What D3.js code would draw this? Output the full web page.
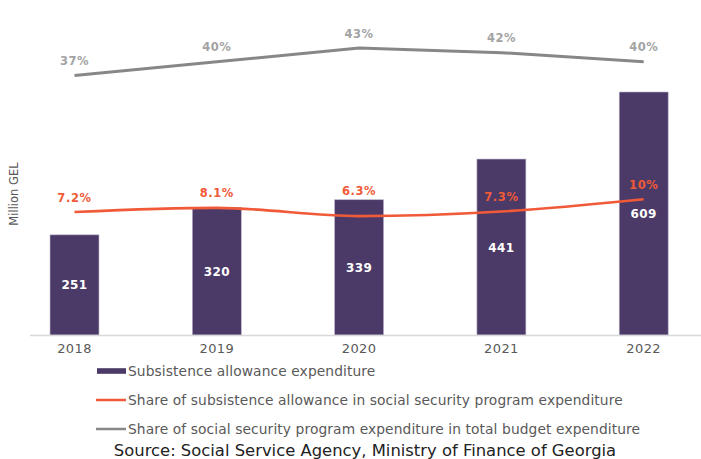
<!DOCTYPE html>
<html>
<head>
<meta charset="utf-8">
<script src="https://cdn.jsdelivr.net/npm/d3@7/dist/d3.min.js"></script>
<style>
  html, body { margin: 0; padding: 0; background: #fff; }
  svg { display: block; font-family: "DejaVu Sans", sans-serif; }
</style>
</head>
<body>
<svg id="chart" width="701" height="459"></svg>
<script>
// Subsistence allowance, Georgia, 2018–2022
const years = ["2018", "2019", "2020", "2021", "2022"];
const allowanceExpenditure = [251, 320, 339, 441, 609];          // million GEL
const shareOfSocialSecurity = [7.2, 8.1, 6.3, 7.3, 10];         // %
const shareOfTotalBudget = [37, 40, 43, 42, 40];                // %
const shareLabels = ["7.2%", "8.1%", "6.3%", "7.3%", "10%"];
const budgetLabels = ["37%", "40%", "43%", "42%", "40%"];
const legendLabels = [
  "Subsistence allowance expenditure",
  "Share of subsistence allowance in social security program expenditure",
  "Share of social security program expenditure in total budget expenditure"
];
const sourceText = "Source: Social Service Agency, Ministry of Finance of Georgia";

const colors = { bar: "#4b3a67", barEdge: "#b9b1c9", share: "#f05a38", budget: "#878787", axis: "#d9d9d9", text: "#595959" };

const svg = d3.select("#chart");

const x = d3.scaleBand().domain(years).range([3.35, 714.85]).paddingInner(0.656).paddingOuter(0.328);
const y = d3.scaleLinear().domain([0, 700]).range([335, 335 - 700 * 0.399]);
const yPct = d3.scaleLinear().domain([0, 50]).range([245, 245 - 50 * 4.58]);

// Bars
svg.append("g").selectAll("rect").data(allowanceExpenditure).join("rect")
  .attr("x", (d, i) => x(years[i]))
  .attr("y", d => y(d))
  .attr("width", x.bandwidth())
  .attr("height", d => y(0) - y(d))
  .attr("fill", colors.bar)
  .attr("stroke", colors.barEdge)
  .attr("stroke-width", 0.6);

// Category axis
const xAxis = svg.append("g").attr("transform", `translate(0,${y(0)})`)
  .call(d3.axisBottom(x).tickSize(0).tickPadding(9));
xAxis.select(".domain").attr("d", "M30,0.5H701").attr("stroke", colors.axis).attr("stroke-width", 1.5);
xAxis.selectAll("text").attr("font-size", 13).attr("fill", colors.text)
  .attr("font-family", "DejaVu Sans, sans-serif").attr("letter-spacing", 0.4);

// Bar value labels
svg.append("g").selectAll("text").data(allowanceExpenditure).join("text")
  .attr("x", (d, i) => x(years[i]) + x.bandwidth() / 2)
  .attr("y", d => (y(d) + y(0)) / 2 + 4.5)
  .attr("text-anchor", "middle")
  .attr("font-size", 12).attr("font-weight", "bold")
  .attr("letter-spacing", 0.4)
  .attr("fill", "#fff")
  .text(d => d);

const cx = i => x(years[i]) + x.bandwidth() / 2;

// Share of total budget line
svg.append("path").datum(shareOfTotalBudget)
  .attr("d", d3.line().x((d, i) => cx(i)).y(d => yPct(d)))
  .attr("fill", "none").attr("stroke", colors.budget).attr("stroke-width", 3);
svg.append("g").selectAll("text").data(shareOfTotalBudget).join("text")
  .attr("x", (d, i) => cx(i))
  .attr("y", d => yPct(d) - 10.5)
  .attr("text-anchor", "middle")
  .attr("font-size", 11.5).attr("font-weight", "bold").attr("letter-spacing", 0.5)
  .attr("fill", "#a3a3a3")
  .text((d, i) => budgetLabels[i]);

// Share of social security line
svg.append("path").datum(shareOfSocialSecurity)
  .attr("d", d3.line().x((d, i) => cx(i)).y(d => yPct(d)).curve(d3.curveMonotoneX))
  .attr("fill", "none").attr("stroke", colors.share).attr("stroke-width", 2.6);
svg.append("g").selectAll("text").data(shareOfSocialSecurity).join("text")
  .attr("x", (d, i) => cx(i))
  .attr("y", (d, i) => {
    let ly = yPct(d) - 15;
    const top = y(allowanceExpenditure[i]);
    if (Math.abs(ly - top) < 10) ly = top - 9;   // keep label clear of the bar's top edge
    return ly + 4.5;
  })
  .attr("text-anchor", "middle")
  .attr("font-size", 11.5).attr("font-weight", "bold").attr("letter-spacing", 0.6)
  .attr("fill", colors.share)
  .text((d, i) => shareLabels[i]);

// Y axis title
svg.append("text")
  .attr("transform", "translate(18,194) rotate(-90)")
  .attr("text-anchor", "middle")
  .attr("font-size", 11.5).attr("fill", colors.text)
  .text("Million GEL");

// Legend
const legend = svg.append("g");
const legendY = [371, 400, 429];
legend.append("rect").attr("x", 97).attr("y", legendY[0] - 2.8).attr("width", 29).attr("height", 5.6).attr("fill", colors.bar);
legend.append("line").attr("x1", 96).attr("x2", 126).attr("y1", legendY[1]).attr("y2", legendY[1])
  .attr("stroke", colors.share).attr("stroke-width", 2.5);
legend.append("line").attr("x1", 96).attr("x2", 126).attr("y1", legendY[2]).attr("y2", legendY[2])
  .attr("stroke", colors.budget).attr("stroke-width", 2.5);
legend.selectAll("text.lg").data(legendLabels).join("text")
  .attr("class", "lg")
  .attr("x", 128)
  .attr("y", (d, i) => legendY[i] + 4.5)
  .attr("font-size", 13.8).attr("letter-spacing", 0.1).attr("fill", colors.text)
  .text(d => d);

// Source note
svg.append("text")
  .attr("x", 365).attr("y", 455.5)
  .attr("text-anchor", "middle")
  .attr("font-size", 16.4).attr("fill", "#222")
  .text(sourceText);
</script>
</body>
</html>
